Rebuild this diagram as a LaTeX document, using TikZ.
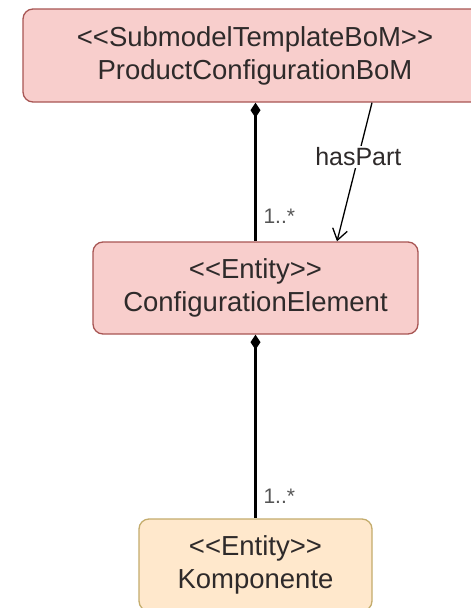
\documentclass[tikz,border=0pt]{standalone}
\usepackage{fontspec}
\setmainfont{Liberation Sans}
\usetikzlibrary{arrows.meta}
\definecolor{pinkfill}{HTML}{F8CECC}
\definecolor{pinkdraw}{HTML}{A85654}
\definecolor{peachfill}{HTML}{FFE8CC}
\definecolor{peachdraw}{HTML}{C4AC6C}
\definecolor{txt}{HTML}{2E2A2A}
\definecolor{multc}{HTML}{555555}
\tikzset{
  umlbox/.style={draw, line width=1.3pt, rounded corners=10pt, inner sep=0pt,
    align=center, text=txt, font=\fontsize{27.5}{33}\selectfont},
  pinkbox/.style={umlbox, fill=pinkfill, draw=pinkdraw},
  peachbox/.style={umlbox, fill=peachfill, draw=peachdraw},
  compo/.style={line width=2.1pt, {Diamond[length=15pt,width=10pt]}-},
  assoc/.style={line width=1.3pt, -{Straight Barb[length=11pt,width=15pt,line width=1.3pt]}},
  mult/.style={text=multc, font=\fontsize{21}{21}\selectfont, anchor=west, inner sep=0pt},
  lbl/.style={fill=white, text=txt, font=\fontsize{25}{25}\selectfont, inner sep=2pt}
}
\begin{document}
\begin{tikzpicture}[x=1pt,y=-1pt]
\useasboundingbox (0,0) rectangle (471,608);
\clip (0,0) rectangle (471,608);
\fill[white] (0,0) rectangle (471,608);
\node[pinkbox, minimum width=464pt, minimum height=93pt] (top) at (255,55.5)
  {{<}{<}SubmodelTemplateBoM{>}{>}\\ProductConfigurationBoM};
\node[pinkbox, minimum width=325pt, minimum height=92pt] (mid) at (255.5,288)
  {{<}{<}Entity{>}{>}\\ConfigurationElement};
\node[peachbox, minimum width=233pt, minimum height=92pt] (bot) at (255.5,565)
  {{<}{<}Entity{>}{>}\\Komponente};
\draw[compo] (top.south -| mid.north) -- (mid.north)
  node[mult, pos=0.82, xshift=7pt] {1..*};
\draw[compo] (mid.south) -- (bot.north)
  node[mult, pos=0.88, xshift=7pt] {1..*};
\draw[assoc] ([xshift=117pt]top.south) -- ([xshift=81.5pt]mid.north)
  node[lbl, pos=0.39] {hasPart};
\end{tikzpicture}
\end{document}
